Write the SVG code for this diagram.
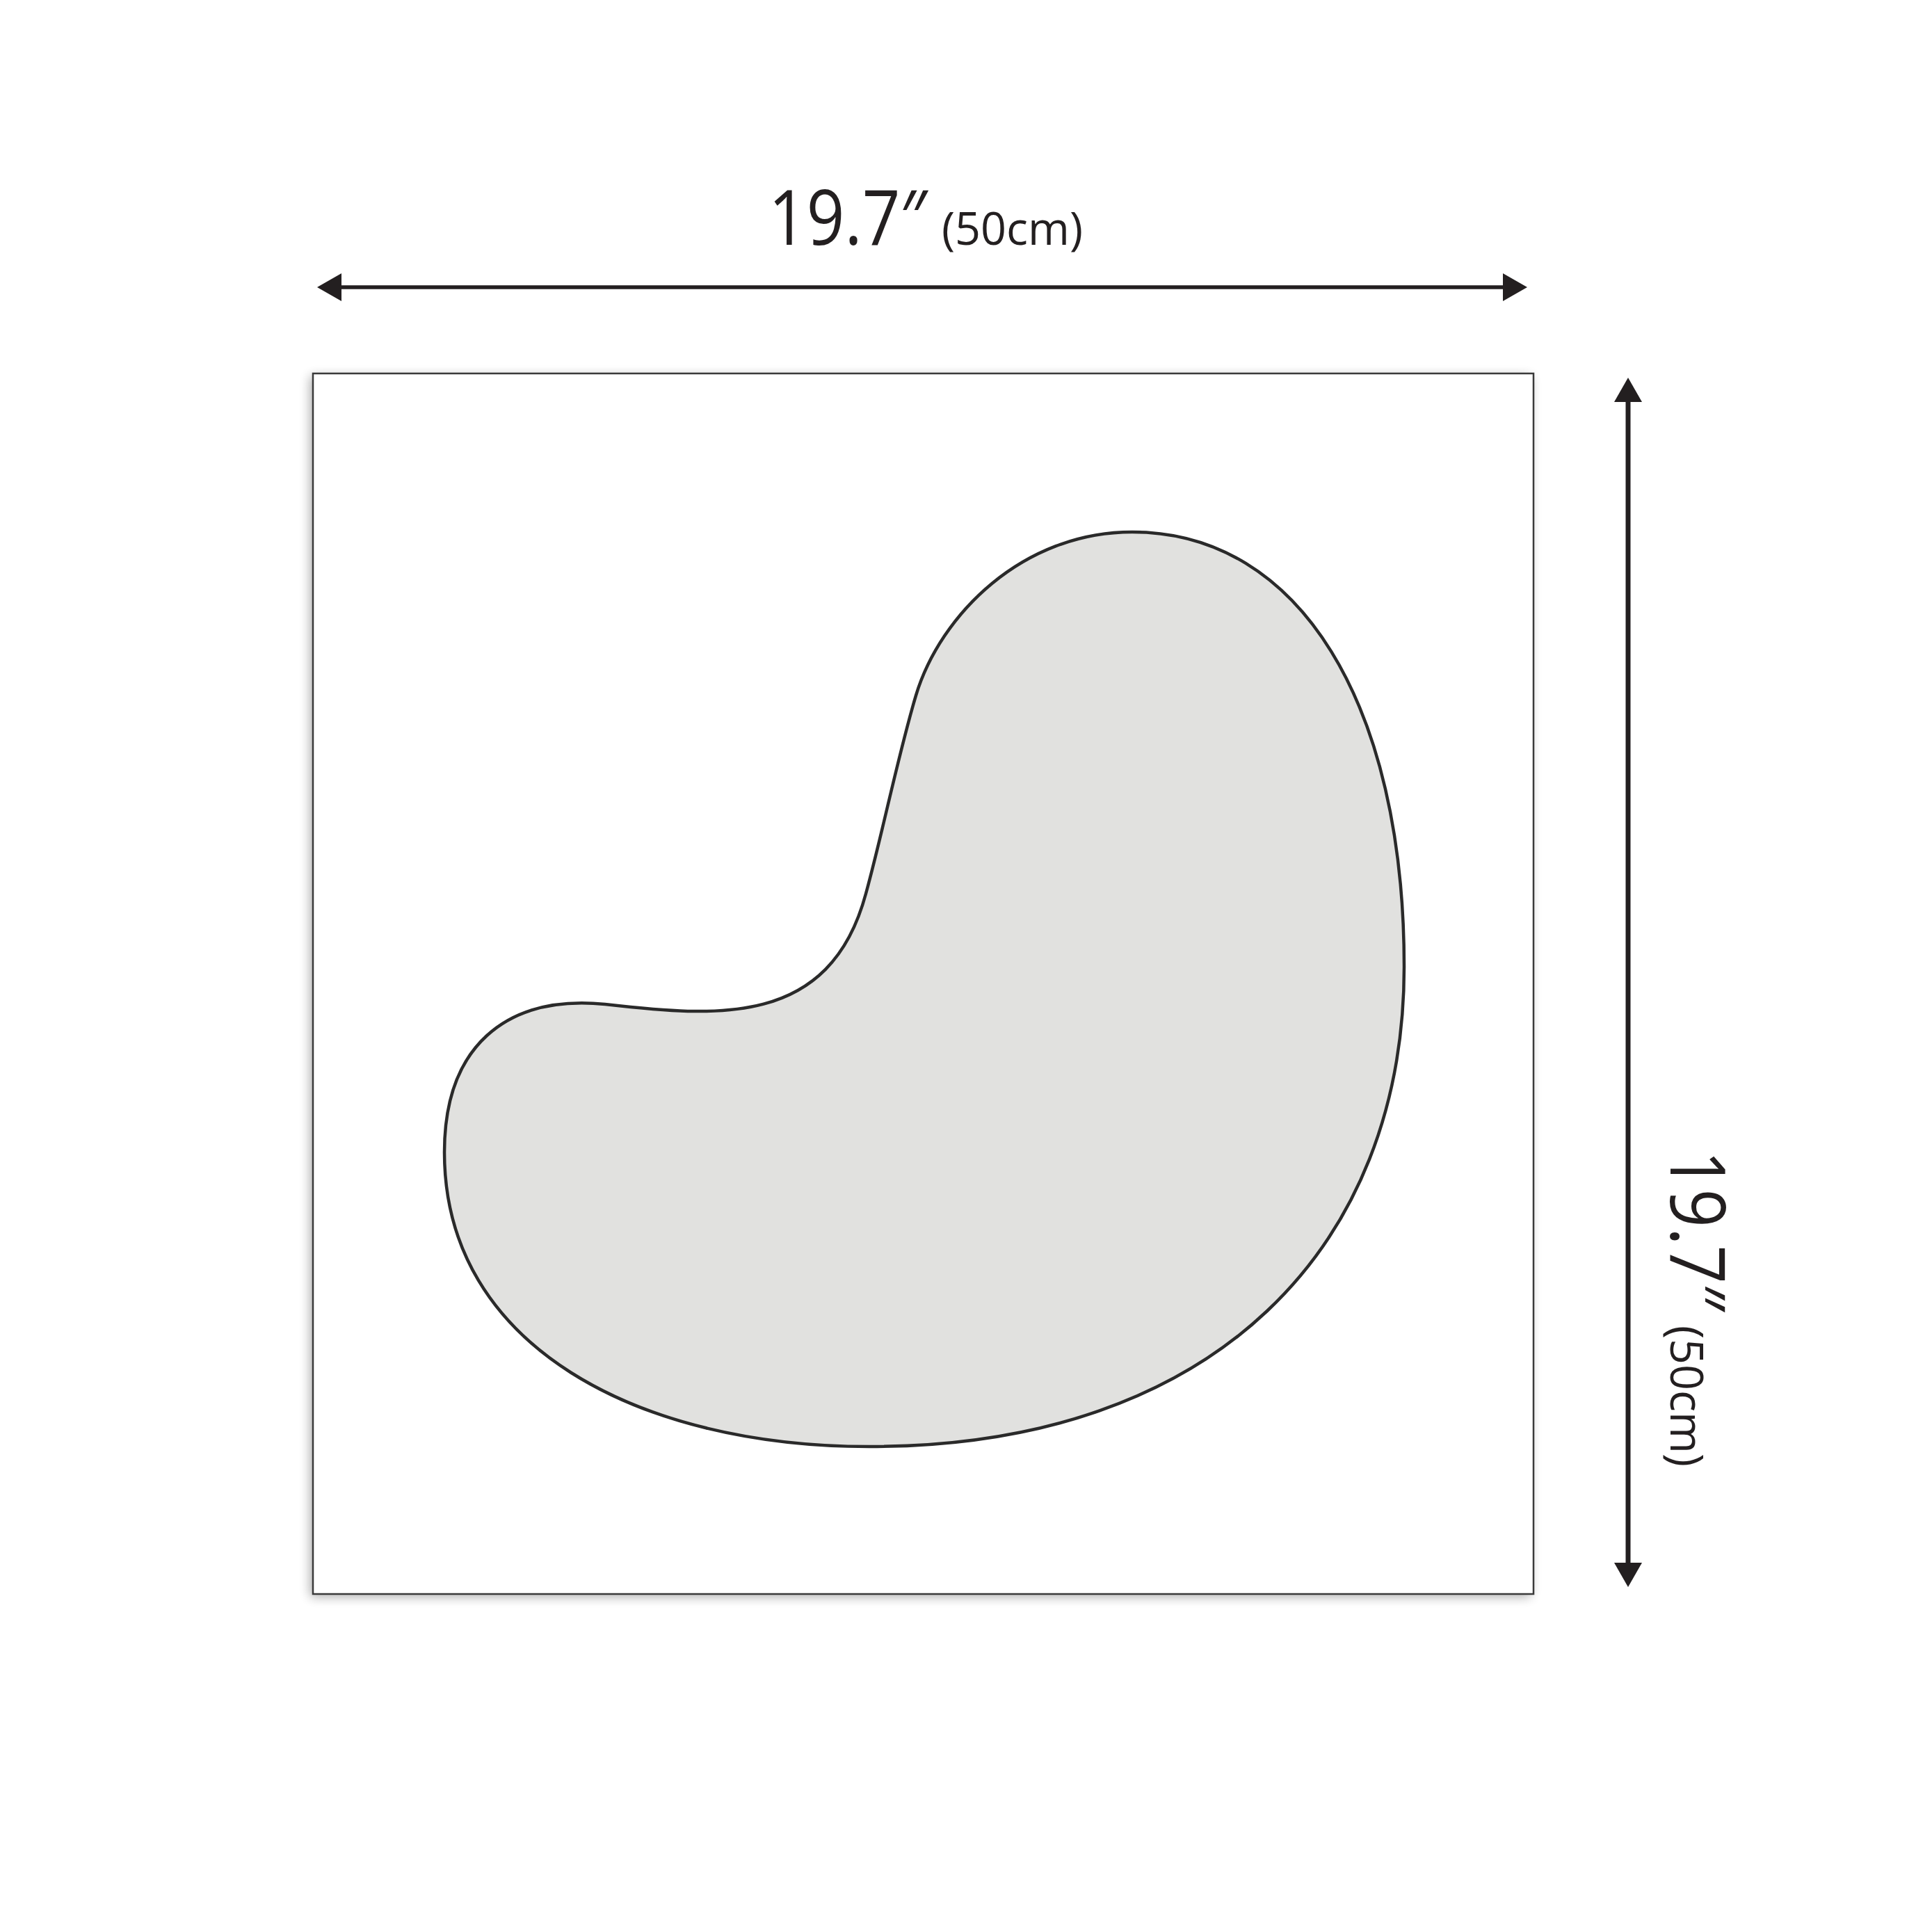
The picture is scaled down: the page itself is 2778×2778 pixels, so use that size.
<svg xmlns="http://www.w3.org/2000/svg" width="2778" height="2778" viewBox="0 0 2778 2778">
  <style>
    .dim { font-family: "Open Sans", "DejaVu Sans", sans-serif; fill: #231f20; }
    .big { font-size: 110px; }
    .small { font-size: 66px; }
    .dimline { stroke: #231f20; fill: none; }
  </style>
  <defs>
    <marker id="ah" viewBox="0 0 35 40" refX="0" refY="20" markerWidth="35" markerHeight="40" markerUnits="userSpaceOnUse" orient="auto-start-reverse">
      <path d="M0,0 L35,20 L0,40 Z" fill="#231f20"/>
    </marker>
    <filter id="shadow" x="-10%" y="-10%" width="120%" height="120%">
      <feGaussianBlur stdDeviation="8"/>
    </filter>
  </defs>
  <rect width="2778" height="2778" fill="#ffffff"/>

  <g id="panel">
    <rect x="446" y="541" width="1755" height="1755" fill="#000" opacity="0.32" filter="url(#shadow)"/>
    <rect x="450" y="537" width="1755" height="1755" fill="#ffffff" stroke="#3a3a3a" stroke-width="2.5"/>
  </g>

  <g id="mirror">
    <path fill="#e1e1df" stroke="#2a2a2a" stroke-width="4.5" stroke-linejoin="round" d="M1628,765
      C1870,765 2019,1015 2019,1390
      C2019,1790 1750,2080 1250,2080
      C920,2080 639,1937 639,1657
      C639,1507 725,1430 870,1444
      C1030,1462 1193,1478 1245,1285
      C1269,1198 1291,1087 1317,1000
      C1352,884 1470,765 1628,765 Z"/>
  </g>

  <g id="connectors">
    <line class="dimline" x1="491" y1="413" x2="2161" y2="413" stroke-width="5.5" marker-start="url(#ah)" marker-end="url(#ah)"/>
    <line class="dimline" x1="2341" y1="578" x2="2341" y2="2247" stroke-width="7" marker-start="url(#ah)" marker-end="url(#ah)"/>
  </g>

  <g id="width-label">
    <text class="dim big" x="1105" y="352" textLength="228" lengthAdjust="spacingAndGlyphs">19.7″</text>
    <text class="dim small" x="1354" y="352" textLength="203" lengthAdjust="spacingAndGlyphs">(50cm)</text>
  </g>

  <g id="height-label" transform="translate(2402,1654) rotate(90)">
    <text class="dim big" x="0" y="0" textLength="231" lengthAdjust="spacingAndGlyphs">19.7″</text>
    <text class="dim small" x="252" y="0" textLength="203" lengthAdjust="spacingAndGlyphs">(50cm)</text>
  </g>
</svg>
